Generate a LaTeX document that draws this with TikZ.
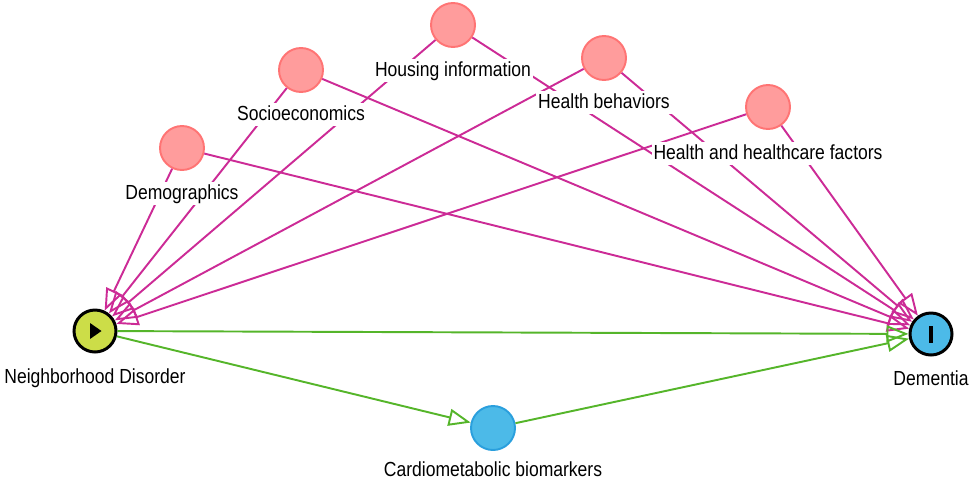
\documentclass[tikz,border=0pt]{standalone}
\usepackage{fontspec}
\setmainfont{Liberation Sans}[FakeStretch=0.86]
\usetikzlibrary{arrows.meta,positioning}

\definecolor{adjfill}{HTML}{FF9C9C}
\definecolor{adjdraw}{HTML}{FF7474}
\definecolor{biascol}{HTML}{CC2B96}
\definecolor{causcol}{HTML}{55B52A}
\definecolor{expofill}{HTML}{CCDD48}
\definecolor{outcfill}{HTML}{4CBAE8}
\definecolor{ancdraw}{HTML}{2A9FDD}

\begin{document}
\begin{tikzpicture}[adj/.style = {draw=adjdraw, fill=adjfill, circle, line width=1.1pt, minimum size=0.88cm, inner sep=0pt},
        expo/.style = {draw=black, fill=expofill, circle, line width=1.7pt, minimum size=0.84cm, inner sep=0pt},
        outc/.style = {draw=black, fill=outcfill, circle, line width=1.7pt, minimum size=0.84cm, inner sep=0pt},
        anc/.style = {draw=ancdraw, fill=outcfill, circle, line width=1.1pt, minimum size=0.88cm, inner sep=0pt},
        lbl/.style = {fill=white, inner sep=1pt, text height=8.6pt, text depth=2.4pt, font=\fontsize{11.6}{14}\selectfont},
        bias/.style = {draw=biascol, line width=1.1pt, -{Triangle[open, length=0.44cm, width=0.34cm]}},
        causal/.style = {draw=causcol, line width=1.1pt, -{Triangle[open, length=0.44cm, width=0.34cm]}}]
        \useasboundingbox (0,0) rectangle (19.4,9.66);

        \node[adj] (demo) at (3.64,6.70) {};
        \node[adj] (socio) at (6.02,8.26) {};
        \node[adj] (housing) at (9.06,9.16) {};
        \node[adj] (behav) at (12.08,8.50) {};
        \node[adj] (health) at (15.36,7.52) {};
        \node[expo] (nd) at (1.90,3.04) {};
        \node[outc] (dem) at (18.62,2.98) {};
        \node[anc] (cardio) at (9.86,1.10) {};

        % marks inside exposure and outcome
        \fill ([shift={(-0.10,0.16)}]nd.center) -- ++(0.23,-0.16) -- ++(-0.23,-0.16) -- cycle;
        \fill ([shift={(-0.045,-0.17)}]dem.center) rectangle ++(0.09,0.33);

        \draw[bias] (demo) -- (nd);
        \draw[bias] (demo) -- (dem);
        \draw[bias] (socio) -- (nd);
        \draw[bias] (socio) -- (dem);
        \draw[bias] (housing) -- (nd);
        \draw[bias] (housing) -- (dem);
        \draw[bias] (behav) -- (nd);
        \draw[bias] (behav) -- (dem);
        \draw[bias] (health) -- (nd);
        \draw[bias] (health) -- (dem);

        \draw[causal] (nd) -- (dem);
        \draw[causal] (nd) -- (cardio);
        \draw[causal] (cardio) -- (dem);

        \node[lbl, below=0.22cm of demo] (demolbl) {Demographics};
        \node[lbl, below=0.20cm of socio] (sociolbl) {Socioeconomics};
        \node[lbl, below=0.22cm of housing] (housinglbl) {Housing information};
        \node[lbl, below=0.20cm of behav] (behavlbl) {Health behaviors};
        \node[lbl, below=0.24cm of health] (healthlbl) {Health and healthcare factors};
        \node[lbl, below=0.26cm of nd] (ndlbl) {Neighborhood Disorder};
        \node[lbl, below=0.24cm of dem] (demlbl) {Dementia};
        \node[lbl, below=0.16cm of cardio] (cardiolbl) {Cardiometabolic biomarkers};
    \end{tikzpicture}
\end{document}
